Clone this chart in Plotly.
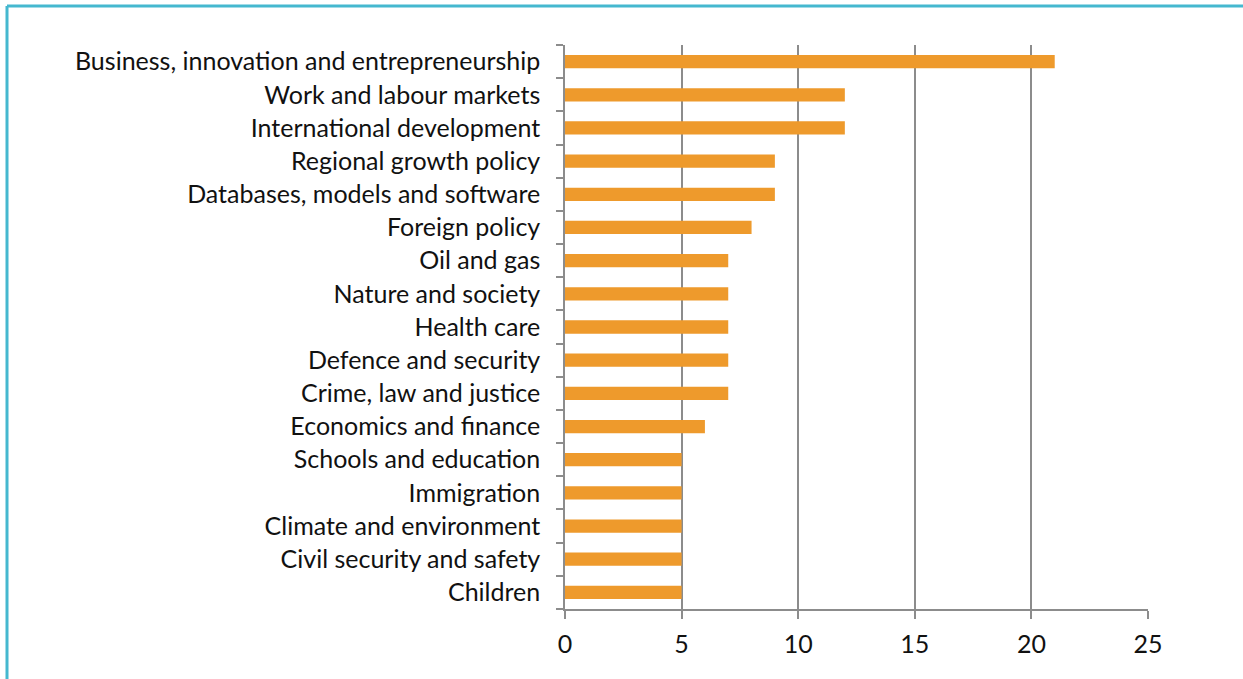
import plotly.graph_objects as go

categories = [
    "Business, innovation and entrepreneurship",
    "Work and labour markets",
    "International development",
    "Regional growth policy",
    "Databases, models and software",
    "Foreign policy",
    "Oil and gas",
    "Nature and society",
    "Health care",
    "Defence and security",
    "Crime, law and justice",
    "Economics and finance",
    "Schools and education",
    "Immigration",
    "Climate and environment",
    "Civil security and safety",
    "Children",
]
values = [21, 12, 12, 9, 9, 8, 7, 7, 7, 7, 7, 6, 5, 5, 5, 5, 5]
x_ticks = [0, 5, 10, 15, 20, 25]

W, H = 1243, 679
L, R, T, B = 565, 95, 45, 70
pw, ph = W - L - R, H - T - B

fig = go.Figure(go.Bar(
    x=values, y=categories, orientation="h",
    marker=dict(color="#EE9A2C", line=dict(width=0)),
    width=0.4,
))

font = dict(family="Lato, 'Open Sans', sans-serif", size=25, color="#111111")

fig.update_layout(
    width=W, height=H,
    margin=dict(l=L, r=R, t=T, b=B, pad=0),
    paper_bgcolor="white", plot_bgcolor="white",
    showlegend=False,
    font=font,
    xaxis=dict(
        range=[0, 25], tickvals=x_ticks, showgrid=True,
        gridcolor="#8C8C8C", gridwidth=1.5,
        showline=True, linecolor="#8C8C8C", linewidth=1.5,
        ticks="outside", ticklen=8, tickcolor="#8C8C8C", tickwidth=1.5,
        ticklabelstandoff=4, zeroline=False, tickfont=font,
    ),
    yaxis=dict(
        categoryorder="array", categoryarray=categories[::-1],
        range=[-0.5, len(categories) - 0.5],
        showline=True, linecolor="#8C8C8C", linewidth=1.5,
        ticks="outside", tickson="boundaries", ticklen=7,
        tickcolor="#8C8C8C", tickwidth=1.5, showgrid=False,
        ticklabelstandoff=18, tickfont=font,
    ),
)

# teal frame (top and left edges)
x_left = (7 - L) / pw
x_right = (W + 10 - L) / pw
y_top = 1 + (T - 6) / ph
y_bot = -(B + 10) / ph
fig.add_shape(type="line", xref="paper", yref="paper", x0=x_left, x1=x_right,
              y0=y_top, y1=y_top, line=dict(color="#45B8CF", width=3))
fig.add_shape(type="line", xref="paper", yref="paper", x0=x_left, x1=x_left,
              y0=y_top, y1=y_bot, line=dict(color="#45B8CF", width=3))

fig.write_html("out.html",
               config={"displayModeBar": False},
               post_script="document.body.style.margin='0';document.body.style.overflow='hidden';")
